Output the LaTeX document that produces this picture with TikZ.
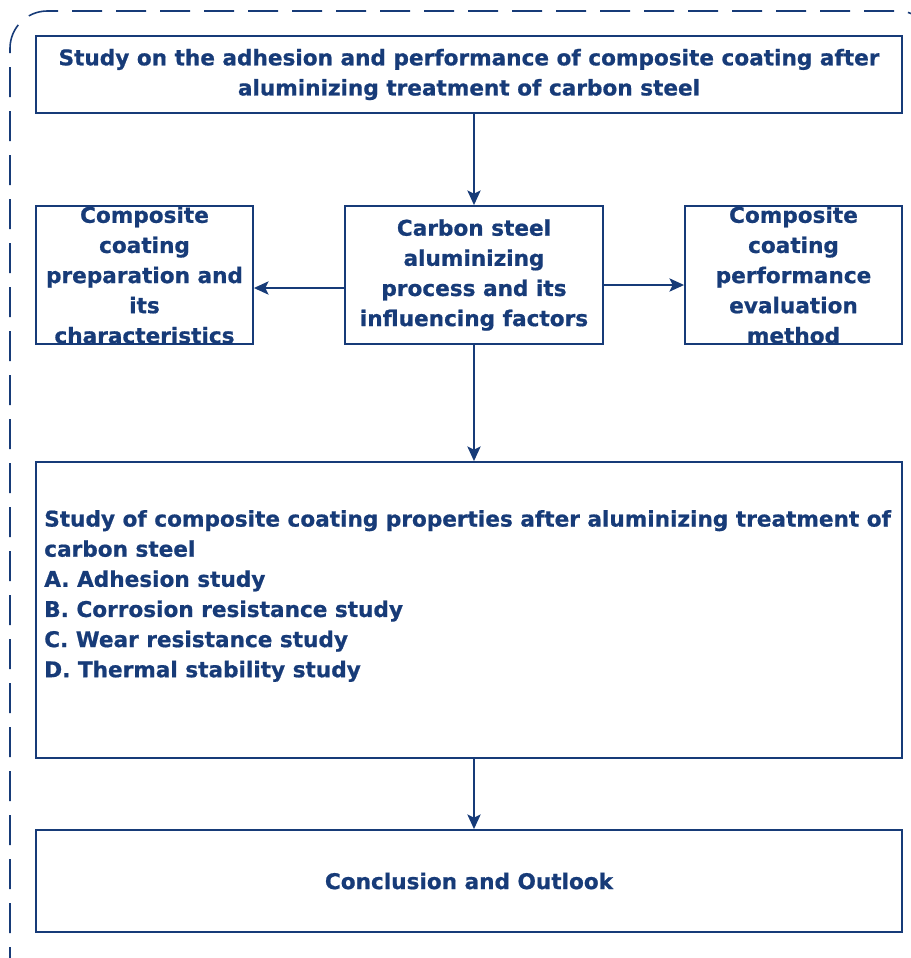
\documentclass[tikz,border=0pt]{standalone}
\usepackage{fontspec}
\setmainfont{DejaVu Sans}[BoldFeatures={FakeBold=0.8}]
\definecolor{navy}{HTML}{173B78}
\usetikzlibrary{arrows.meta, positioning}
\tikzset{
	box/.style={draw=navy, line width=1.4pt, text=navy, font=\bfseries\fontsize{16.2}{22.6}\selectfont, align=center, inner sep=0pt},
	flow/.style={draw=navy, line width=1.2pt, -{Stealth[length=11pt, width=10pt, inset=2.5pt]}},
}

\begin{document}
\begin{tikzpicture}[x=0.75pt, y=-0.75pt]
	\useasboundingbox (0,0) rectangle (911,958);
	\clip (0,0) rectangle (911,958);
	% outer frame
	\draw[navy, line width=1.2pt, dash pattern=on 22.5pt off 10.5pt, rounded corners=28pt] (10,977) -- (10,11) -- (935,11) -- (935,977);
	% boxes
	\node[box, minimum width=866*0.75pt, minimum height=77*0.75pt] (title) at (469,74.5) {Study on the adhesion and performance of composite coating after\\aluminizing treatment of carbon steel};
	\node[box, minimum width=217*0.75pt, minimum height=138*0.75pt] (prep) at (144.5,275) {Composite\\coating\\preparation and\\its\\characteristics};
	\node[box, minimum width=258*0.75pt, minimum height=138*0.75pt] (process) at (474,275) {Carbon steel\\aluminizing\\process and its\\influencing factors};
	\node[box, minimum width=217*0.75pt, minimum height=138*0.75pt] (eval) at (793.5,275) {Composite\\coating\\performance\\evaluation\\method};
	\node[box, minimum width=866*0.75pt, minimum height=296*0.75pt] (props) at (469,610) {};
	\node[text=navy, font=\bfseries\fontsize{16.2}{22.6}\selectfont, align=left, anchor=west, inner sep=0pt] (proptext) at (44,596) {Study of composite coating properties after aluminizing treatment of\\carbon steel\\A. Adhesion study\\B. Corrosion resistance study\\C. Wear resistance study\\D. Thermal stability study};
	\node[box, minimum width=866*0.75pt, minimum height=102*0.75pt] (outlook) at (469,881) {Conclusion and Outlook};
	% connectors
	\draw[flow] (title.south -| process.north) -- (process.north);
	\draw[flow] ([yshift=-9.75pt]process.west) -- ([yshift=-9.75pt]prep.east);
	\draw[flow] ([yshift=-7.5pt]process.east) -- ([yshift=-7.5pt]eval.west);
	\draw[flow] (process.south) -- (process.south |- props.north);
	\draw[flow] (props.south -| process.south) -- (outlook.north -| process.south);
\end{tikzpicture}
\end{document}
